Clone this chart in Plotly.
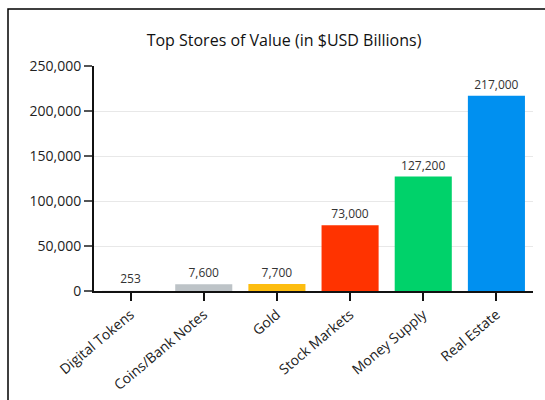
import plotly.graph_objects as go

categories = ["Digital Tokens", "Coins/Bank Notes", "Gold", "Stock Markets", "Money Supply", "Real Estate"]
values = [253, 7600, 7700, 73000, 127200, 217000]
labels = ["253", "7,600", "7,700", "73,000", "127,200", "217,000"]
colors = ["#f4f4f4", "#bdc3c7", "#fdbd10", "#ff3300", "#00d26a", "#0090f0"]
y_ticks = [0, 50000, 100000, 150000, 200000, 250000]
y_tick_text = ["0", "50,000", "100,000", "150,000", "200,000", "250,000"]

W, H = 545, 400
L, R, T, B = 94, 12, 66, 109
pw = W - L - R
ph = H - T - B

fig = go.Figure(go.Bar(
    x=categories, y=values, marker=dict(color=colors, line=dict(width=0)),
    text=labels, textposition="outside", cliponaxis=False,
    textfont=dict(family="Open Sans", size=12, color="#333333"),
    hoverinfo="x+y",
))

fig.update_layout(
    width=W, height=H,
    margin=dict(l=L, r=R, t=T, b=B, pad=0, autoexpand=False),
    paper_bgcolor="white", plot_bgcolor="white",
    bargap=0.22,
    showlegend=False,
    font=dict(family="Open Sans", size=14, color="#222222"),
    title=dict(text="Top Stores of Value (in $USD Billions)", x=284 / W, xref="container",
               xanchor="center", y=1 - 40 / H, yref="container", yanchor="middle",
               font=dict(family="Open Sans", size=16, color="#111111")),
    xaxis=dict(
        range=[-0.5, 5.5], tickangle=-40, showline=True, linecolor="#111111", linewidth=2,
        ticks="outside", ticklen=8, tickcolor="#111111", tickwidth=1.5, automargin=False,
        tickfont=dict(family="Open Sans", size=14, color="#222222"), showgrid=False,
        fixedrange=True,
    ),
    yaxis=dict(
        range=[0, 250000], tickvals=y_ticks, ticktext=y_tick_text, showline=True,
        linecolor="#111111", linewidth=2, ticks="outside", ticklen=8, tickcolor="#555555",
        tickwidth=1.5, showgrid=True, gridcolor="#e8e8e8", gridwidth=1, zeroline=False,
        automargin=False,
        tickfont=dict(family="Open Sans", size=14, color="#222222"), fixedrange=True,
    ),
    shapes=[dict(
        type="rect", xref="paper", yref="paper",
        x0=(8 - L) / pw, x1=(W + 20 - L) / pw,
        y0=(H - B - (H + 20)) / ph, y1=(H - B - 9) / ph,
        line=dict(color="#000000", width=1.5), fillcolor="rgba(0,0,0,0)", layer="below",
    )],
)

fig.write_html("out.html", config={"displayModeBar": False})
